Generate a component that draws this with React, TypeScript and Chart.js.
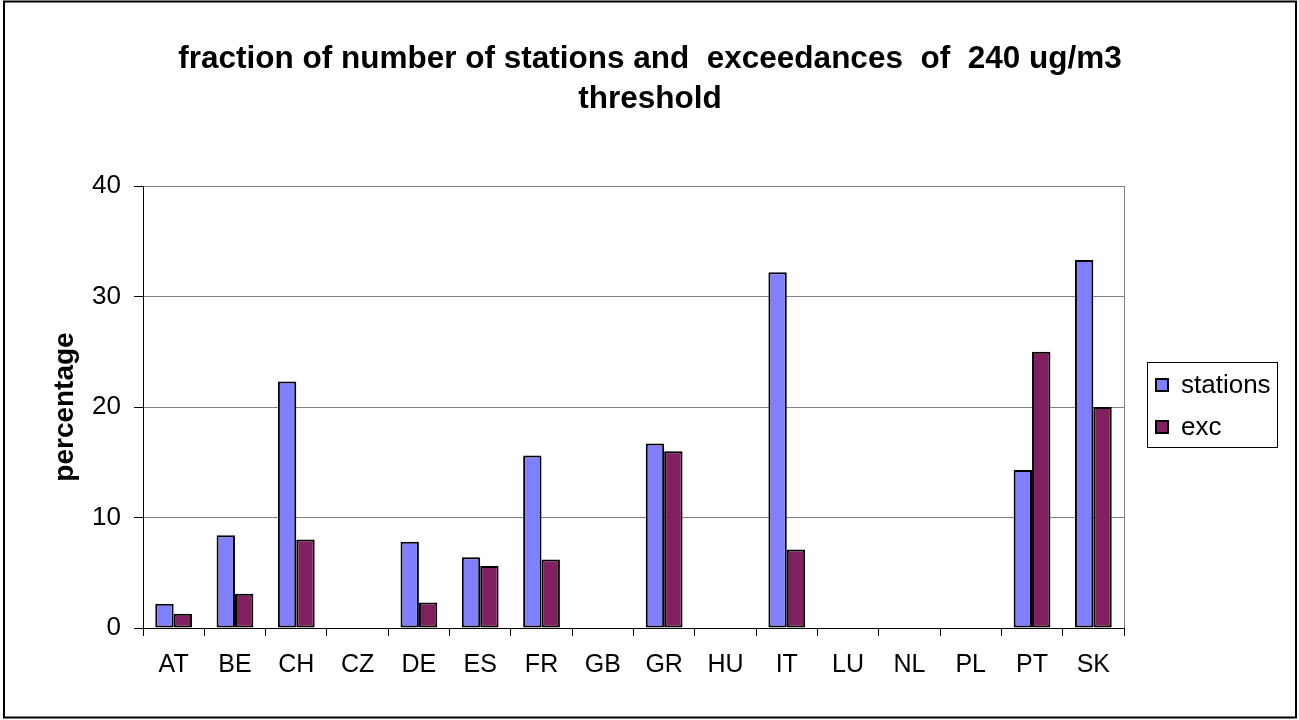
import { useEffect, useRef } from 'react';
import { Chart, registerables } from 'chart.js';

Chart.register(...registerables);

const categories = ['AT', 'BE', 'CH', 'CZ', 'DE', 'ES', 'FR', 'GB', 'GR', 'HU', 'IT', 'LU', 'NL', 'PL', 'PT', 'SK'];
const stations = [2.2, 8.4, 22.3, null, 7.8, 6.4, 15.6, null, 16.7, null, 32.2, null, null, null, 14.3, 33.3];
const exc = [1.3, 3.1, 8.0, null, 2.3, 5.6, 6.2, null, 16.0, null, 7.1, null, null, null, 25.0, 20.0];
const yMin = 0;
const yMax = 40;
const yStep = 10;
const titleLines = ['fraction of number of stations and  exceedances  of  240 ug/m3', 'threshold'];
const yAxisTitle = 'percentage';
const seriesNames = ['stations', 'exc'];
const seriesColors = ['#8080FF', '#802060'];

const FONT = '"Liberation Sans", Arial, sans-serif';

const decorPlugin = {
  id: 'decor',
  afterDraw(chart: any) {
    const { ctx, chartArea } = chart;
    ctx.save();
    // right border of plot area
    ctx.strokeStyle = '#808080';
    ctx.lineWidth = 1;
    ctx.beginPath();
    ctx.moveTo(Math.round(chartArea.right) + 0.5, chartArea.top);
    ctx.lineTo(Math.round(chartArea.right) + 0.5, chartArea.bottom);
    ctx.stroke();
    // outer border
    ctx.strokeStyle = '#000';
    ctx.lineWidth = 2;
    ctx.strokeRect(4, 1.5, 1292, 716);
    // title
    ctx.fillStyle = '#000';
    ctx.font = `bold 31.5px ${FONT}`;
    ctx.textAlign = 'center';
    ctx.textBaseline = 'alphabetic';
    ctx.fillText(titleLines[0], 650, 68);
    ctx.fillText(titleLines[1], 650, 108);
    // legend
    ctx.lineWidth = 1;
    ctx.strokeStyle = '#000';
    ctx.strokeRect(1147.5, 362.5, 130, 85);
    ctx.font = `26px ${FONT}`;
    ctx.textAlign = 'left';
    ctx.textBaseline = 'middle';
    const ys = [385, 427];
    chart.data.datasets.forEach((ds: any, i: number) => {
      const y = ys[i];
      ctx.fillStyle = ds.backgroundColor;
      ctx.fillRect(1155, y - 7, 14, 14);
      ctx.lineWidth = 2;
      ctx.strokeStyle = '#000';
      ctx.strokeRect(1156, y - 6, 12, 12);
      ctx.fillStyle = '#000';
      ctx.fillText(ds.label, 1181, y + 1);
    });
    ctx.restore();
  },
};

export default function App() {
  const ref = useRef<HTMLCanvasElement>(null);
  useEffect(() => {
    if (!ref.current) return;
    const chart = new Chart(ref.current, {
      type: 'bar',
      data: {
        labels: categories,
        datasets: [
          {
            label: seriesNames[0],
            data: stations,
            backgroundColor: seriesColors[0],
            borderColor: '#000',
            borderWidth: 2,
            borderSkipped: false,
          },
          {
            label: seriesNames[1],
            data: exc,
            backgroundColor: seriesColors[1],
            borderColor: '#000',
            borderWidth: 2,
            borderSkipped: false,
          },
        ],
      } as any,
      options: {
        responsive: false,
        animation: false,
        events: [],
        layout: { padding: { top: 186, right: 175, bottom: 0, left: 0 } },
        datasets: { bar: { categoryPercentage: 0.6, barPercentage: 1.0 } },
        plugins: {
          legend: { display: false },
          title: { display: false },
          tooltip: { enabled: false },
        },
        scales: {
          x: {
            grid: {
              display: true,
              drawOnChartArea: false,
              drawTicks: true,
              tickLength: 8,
              tickColor: '#000',
              offset: true,
            },
            border: { display: true, color: '#000', width: 1 },
            ticks: {
              color: '#000',
              font: { family: FONT, size: 25 },
              padding: 14,
              maxRotation: 0,
              autoSkip: false,
            },
            afterFit: (s: any) => {
              s.height = 92;
            },
          },
          y: {
            min: yMin,
            max: yMax,
            ticks: {
              stepSize: yStep,
              color: '#000',
              font: { family: FONT, size: 26 },
              padding: 13,
            },
            grid: {
              color: (c: any) => (c.tick && c.tick.value === 0 ? '#000' : '#808080'),
              lineWidth: 1,
              tickLength: 9,
              tickColor: '#000',
            },
            border: { display: true, color: '#000', width: 1 },
            title: {
              display: true,
              text: yAxisTitle,
              color: '#000',
              font: { family: FONT, size: 28, weight: 'bold' },
              padding: { top: 48, bottom: 0 },
            },
            afterFit: (s: any) => {
              s.width = 143;
            },
          },
        },
      },
      plugins: [decorPlugin],
    });
    return () => chart.destroy();
  }, []);
  return (
    <div style={{ position: 'absolute', left: 0, top: 0, width: 1299, height: 720, background: '#fff' }}>
      <canvas ref={ref} width={1299} height={720} />
    </div>
  );
}
